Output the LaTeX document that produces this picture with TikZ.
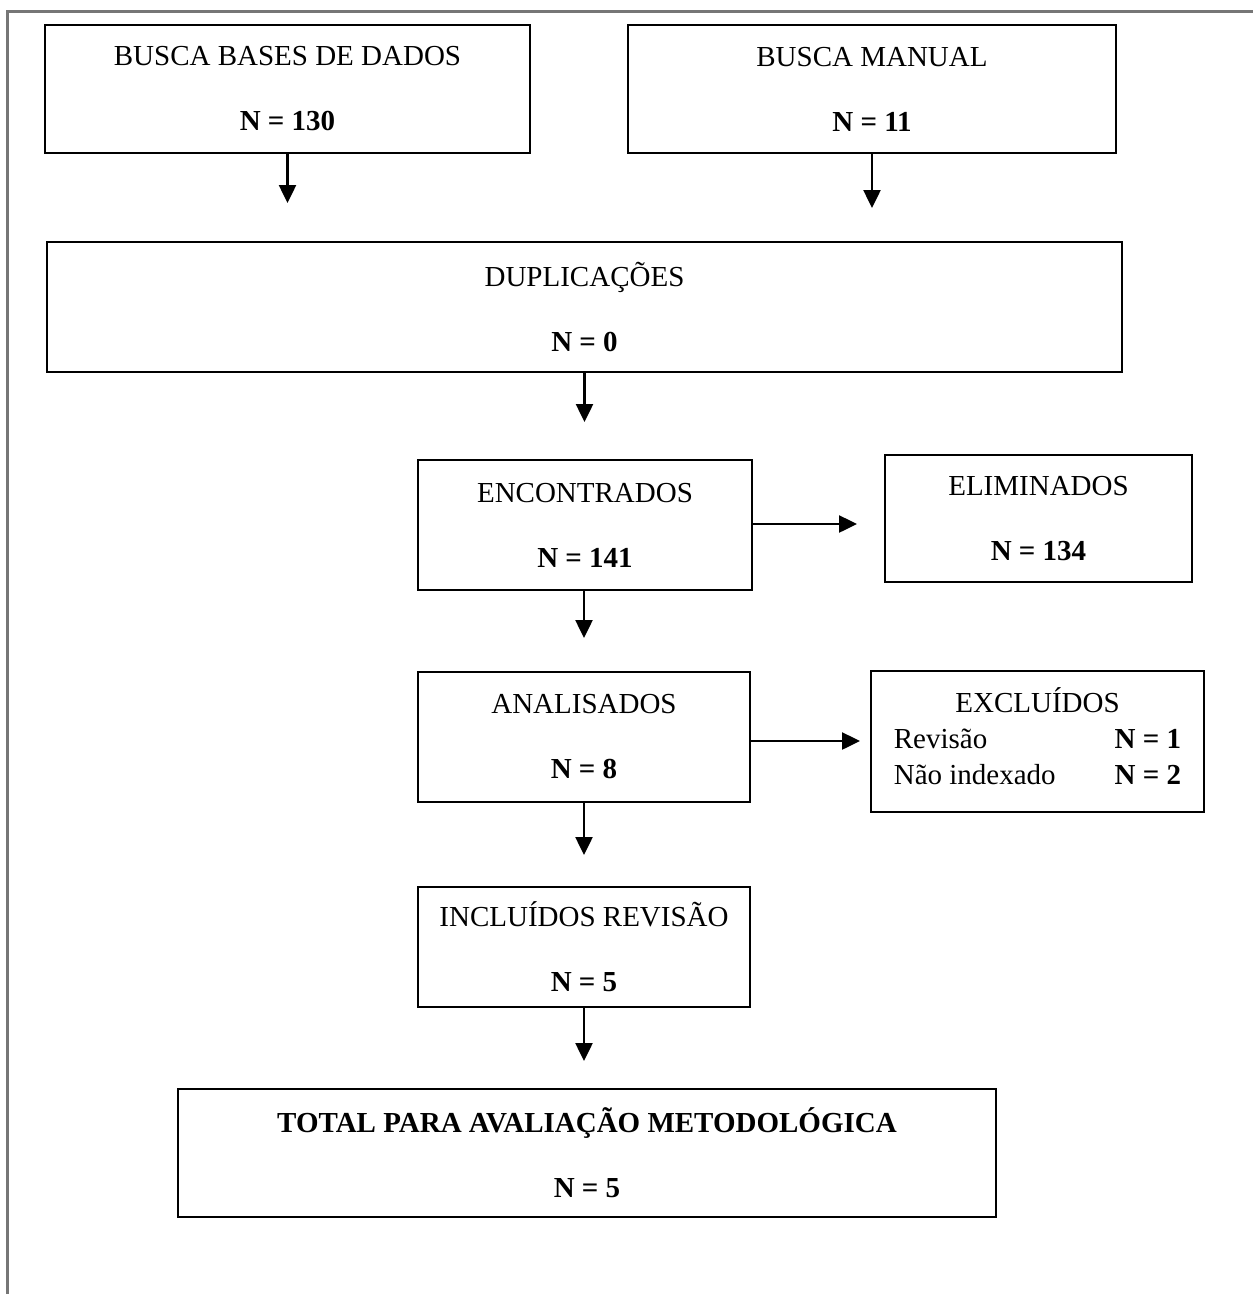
\documentclass[tikz,border=0pt]{standalone}
\usepackage{fontspec}
\setmainfont{Liberation Serif}
\usetikzlibrary{arrows.meta}
\definecolor{framegray}{RGB}{118,118,118}
\tikzset{
  box/.style={draw, line width=2.2pt, align=center, inner sep=0pt},
  arr/.style={line width=2.5pt, -{Triangle[length=18pt,width=17pt]}}
}
\begin{document}
\begin{tikzpicture}[x=1pt,y=-1pt,font=\fontsize{29}{34}\selectfont]
\useasboundingbox (0,0) rectangle (1253,1294);
\draw[framegray, line width=3pt] (6,11) -- (1253,11);
\draw[framegray, line width=3pt] (7,11) -- (7,1294);

\node[box, minimum width=485pt, minimum height=128pt] (bases) at (287.5,89) {BUSCA BASES DE DADOS\\[31pt]\textbf{N = 130}};
\node[box, minimum width=488pt, minimum height=128pt] (manual) at (872,89) {BUSCA MANUAL\\[31pt]\textbf{N = 11}};
\node[box, minimum width=1075pt, minimum height=130pt] (dupl) at (584.5,307) {DUPLICAÇÕES\\[31pt]\textbf{N = 0}};
\node[box, minimum width=334pt, minimum height=130pt] (encon) at (585,525) {ENCONTRADOS\\[31pt]\textbf{N = 141}};
\node[box, minimum width=307pt, minimum height=127pt] (elim) at (1038.5,518.5) {ELIMINADOS\\[31pt]\textbf{N = 134}};
\node[box, minimum width=332pt, minimum height=130pt] (anal) at (584,737) {ANALISADOS\\[31pt]\textbf{N = 8}};
\node[box, minimum width=333pt, minimum height=141pt] (excl) at (1037.5,741.5) {\begin{tabular}{@{}l@{\hspace{59pt}}r@{}}
\multicolumn{2}{c}{EXCLUÍDOS}\\[2pt]
Revisão & \textbf{N = 1}\\[2pt]
Não indexado & \textbf{N = 2}
\end{tabular}};
\node[box, minimum width=332pt, minimum height=120pt] (incl) at (584,947) {INCLUÍDOS REVISÃO\\[31pt]\textbf{N = 5}};
\node[box, minimum width=818pt, minimum height=128pt] (total) at (587,1153) {\textbf{TOTAL PARA AVALIAÇÃO METODOLÓGICA}\\[31pt]\textbf{N = 5}};

\coordinate (e1) at (287.5,203);
\coordinate (e2) at (872,208);
\coordinate (e3) at (584.5,422);
\coordinate (e4) at (857,524);
\coordinate (e5) at (584,638);
\coordinate (e6) at (860,741);
\coordinate (e7) at (584,855);
\coordinate (e8) at (584,1061);
\draw[arr] (bases.south) -- (e1);
\draw[arr] (manual.south) -- (e2);
\draw[arr] (dupl.south) -- (e3);
\draw[arr] (encon.east |- e4) -- (e4);
\draw[arr] (encon.south -| e5) -- (e5);
\draw[arr] (anal.east |- e6) -- (e6);
\draw[arr] (anal.south) -- (e7);
\draw[arr] (incl.south) -- (e8);
\end{tikzpicture}
\end{document}
